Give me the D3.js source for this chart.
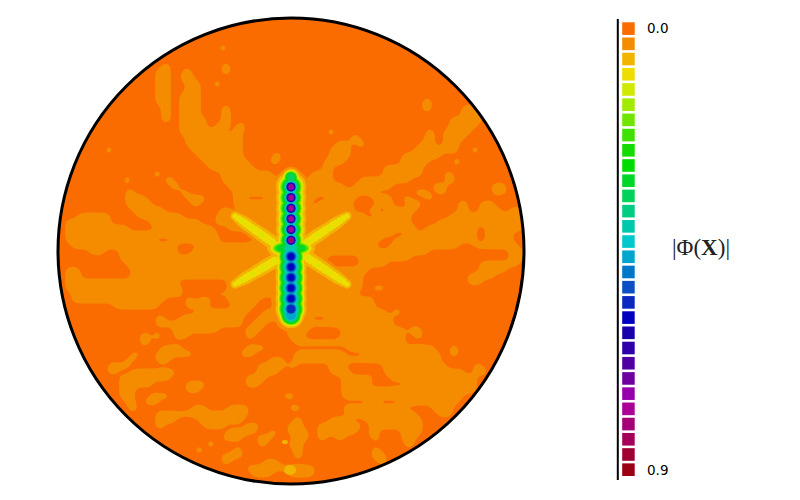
<!DOCTYPE html>
<html>
<head>
<meta charset="utf-8">
<script src="https://cdn.jsdelivr.net/npm/d3@7"></script>
<style>html,body{margin:0;padding:0;background:#fff}svg{display:block}</style>
</head>
<body>
<svg id="chart" width="800" height="500"></svg>
<script>
// Colour levels of |Phi(X)|, from 0.0 to 0.9
const levelColors = ["#fa6c00","#f58c00","#f2b400","#eedd00","#cfe900","#a2ea00","#70e600","#40e000","#14dc00","#00dc00",
  "#00d728","#00d25a","#00cd82","#00c8aa","#00c8cd","#00a5cd","#0078c8","#0a50c3","#0a28be","#0000be",
  "#1900aa","#2d00aa","#5000a0","#6e00a0","#9600aa","#aa0096","#a50078","#a5005a","#a00032","#9b0014"];
const colorbarLabels = ["0.0","0.9"];

// Low-amplitude field over a 78 x 78 grid: columns at level 1 in each row (rest is level 0)
const fieldRuns = ["","","","","",
"27","","",
"17-18 27-28","16-18 21 27-28","16-18 20-22","16-18 21-23 26","16-18 21-23","16-18 20-23",
"16-18 20-23 61","17-18 20-23 27-28 61 67-69","17-18 20-23 27-28 67-70","17-18 20-24 27-28 65-70",
"20-24 26-28 30 65-69","20-27 29-30 45 61-62 64-68","21-30 49 61-62 64-67","21-30 46-48 50 60-62 64-66",
"8 22-30 45-48 59-66 69","5-6 23-30 36 45-48 57-63","24-31 35-36 44-47 57-61 66","25-32 44-45 54-60",
"16 27-35 42-45 54-60 64-65","11 18 27-39 41-45 50-58 65","19 28-39 41-47 49-55 62-64 72-74",
"11-12 20-21 29-39 41-52 59-61 63-64 72-74","11-14 21-24 29-30 35-42 45-49 52-55 57-58 61-62",
"11-15 22-23 25-26 29-41 43-48 53-55 58-60 67 70-72","12-17 27-28 30-49 52 55-57 58-59 67 70-73 75-77",
"3-8 13-20 26-41 43-47 50 53-58 65-77","1-8 15-23 26-58 63-77","1-11 16-25 28-41 43-59 61-69 71-77",
"1-19 20-26 31-55 58-59 60-69 71-75","1-15 19-26 33-45 47-53 56-69 71-75","2-19 23-52 55-66 69-76",
"5-7 10-19 22-61 75-77","10-44 50-58 75-77","11-30 33-44 50-54 70-76","1-3 12-51 70-74","1-3 12-15 18-50 68-72",
"1-19 28-50 68-70","1-20 28-50 52-54","2-20 26-27 28-30 33-49","2-17 21-22 23-25 28-33 36-52",
"9-16 21-22 23-24 29-32 36-52","23-31 34-54 56","16-17 20-30 33-41 45-55 59-60","16-30 32-34 37-55",
"19-26 31-33 38-41 47-57 58-60","14 16 19-21 31-32 38-40 47-57 59-60","14 39-57","5-6 17-20 31-34 48-62 65-66",
"8-9 12-13 16-22 30-32 39-47 51-63 65-66","11-12 16-18 35-37 39-63","8-11 33-37 38-39 45-47 54-64 69-70",
"8-9 12-19 33-36 45-48 54-67 69-71","10-18 31-34 38-39 47-52 55-69","10-15 21-24 31-33 47-51 58-69",
"10-12 21-23 47-59 61-65 67-69","10-12 15-18 31-32 37-39 47-67","11-12 14-16 52 57-66","12 22-24 28-31 38-40 47-57 62-65",
"16-31 48-59 63-65","16-19 23-30 39-40 45-48 51-60","16-17 24-27 31-33 38-40 43-50 52-60",
"28-32 35-36 38-41 43-49 52 57-60","27-30 33-35 39-41 43-44 46-47 52-53 57-59","25 33-34 38-40 58",
"23 29-30 39-40 52-53","27-30 39-40 52-54","27-28 34-36 53-54","31-42","32-35 38-42",""];

// Vortex chain along the vertical axis (unit-disc y, peak colour level)
const upperNodeY = [0.315,0.275,0.229,0.183,0.138,0.092,0.046];
const upperNodePeak = [11,24,25,25,25,25,27];
const upperNodeSpread = [0.6,1,1,1,1,1,1];
const lowerNodeY = [-0.024,-0.069,-0.114,-0.159,-0.204,-0.249,-0.275];
const lowerNodePeak = [19,19,19,19,19,18,15];
const lowerNodeSpread = [1,1,1,1,1,1,0.85];
// Radius of each level contour around a node, index = level
const upperRingRadius = [0,18,15,12.6,11.6,10.8,10.2,9.6,9,8.5,8,7.3,6.6,6,5.5,5,4.7,4.5,4.3,4.1,3.9,3.6,3.3,3,2.6,2,1.7,1.4];
const lowerRingRadius = [0,20,15.5,13.5,12.5,12,11.5,11,10.5,10,9.5,8.6,7.8,7.2,6.6,5.8,5.1,4.5,3.9,3];

// Four side arms: tip and joint in unit-disc coordinates, beads along each arm
const armTipX = [-0.24,0.24,-0.24,0.24];
const armTipY = [0.15,0.15,-0.142,-0.142];
const armJointX = [-0.082,0.073,-0.07,0.073];
const armJointY = [0.039,0.039,-0.043,-0.03];
const armBeadT = [0,0.09,0.18,0.27,0.36,0.45,0.55,0.64,0.73,0.82,0.91,1];
const armBeadSpread = [0.7,0.82,0.92,1,1,1,1.05,1.05,1.1,1.1,1.1,1.1];
const armRingLevels = [1,2,3,4];
const armRingRadius = [9,6.5,3.8,1.7];

// Hub where chain and arms meet
const hubY = 0.012;
const hubLevels = [1,2,3,5,7,10,13];
const hubRx = [27,24,20.5,18.5,17,14.5,7];
const hubRy = [15,11,8.5,7,6,5,3.2];

// Isolated spots at level 2
const spotX = [-0.004,-0.026];
const spotY = [-0.94,-0.82];
const spotRx = [6,3];
const spotRy = [5,2];

const svg = d3.select("#chart");
const x = d3.scaleLinear().domain([-1,1]).range([58,524]);
const y = d3.scaleLinear().domain([1,-1]).range([18,484]);
const r = d3.scaleLinear().domain([0,233]).range([0,233]);
const color = i => levelColors[i];

svg.append("defs").append("clipPath").attr("id","disc").append("circle")
  .attr("cx",x(0)).attr("cy",y(0)).attr("r",x(1)-x(0));

const disc = svg.append("g").attr("clip-path","url(#disc)");
disc.append("circle").attr("cx",x(0)).attr("cy",y(0)).attr("r",x(1)-x(0)).attr("fill",color(0));

// Background field -> upsampled grid -> blur -> contour
const N = fieldRuns.length, UP = 4, M = N*UP;
const values = new Float64Array(M*M);
fieldRuns.forEach((row,j)=>{
  row.split(" ").filter(Boolean).forEach(run=>{
    const [a,b] = run.split("-").map(Number);
    const single = b===undefined;
    const from = single ? a*UP : a*UP+1;
    const to = single ? a*UP+UP-1 : b*UP+2;
    for(let c=from;c<=to;c++) for(let dj=0;dj<UP;dj++)
      values[(j*UP+dj)*M + c] = single ? 1.7 : 1;
  });
});
d3.blur2({data:values,width:M,height:M},2);
const contour = d3.contours().size([M,M]).thresholds([0.46])(Array.from(values))[0];
const gx = d3.scaleLinear().domain([0,M]).range([58,58+6*N]);
const gy = d3.scaleLinear().domain([0,M]).range([15,15+6*N]);
const gridPath = d3.geoPath(d3.geoTransform({point(a,b){this.stream.point(gx(a),gy(b));}}));
disc.append("path").attr("d",gridPath(contour)).attr("fill",color(1));

// Central structure, drawn level by level from low to high
const nodes = [
  ...upperNodeY.map((v,i)=>({y:v,peak:upperNodePeak[i],spread:upperNodeSpread[i],radii:upperRingRadius})),
  ...lowerNodeY.map((v,i)=>({y:v,peak:lowerNodePeak[i],spread:lowerNodeSpread[i],radii:lowerRingRadius}))
];
const armBeads = armTipX.flatMap((tx,i)=>armBeadT.map((t,k)=>({
  x: tx+(armJointX[i]-tx)*t, y: armTipY[i]+(armJointY[i]-armTipY[i])*t, spread: armBeadSpread[k], k
})));
const core = disc.append("g");
for(let level=1; level<=27; level++){
  const g = core.append("g").attr("fill",color(level)).attr("stroke","none");
  if(level===2){
    g.selectAll(".spot").data(spotX).join("ellipse").attr("class","spot")
      .attr("cx",d=>x(d)).attr("cy",(d,i)=>y(spotY[i]))
      .attr("rx",(d,i)=>r(spotRx[i])).attr("ry",(d,i)=>r(spotRy[i]));
  }
  const ai = armRingLevels.indexOf(level);
  if(ai>=0){
    const beads = level===4 ? armBeads.filter(b=>b.k%3===2) : armBeads;
    g.selectAll(".arm").data(beads).join("circle").attr("class","arm")
      .attr("cx",d=>x(d.x)).attr("cy",d=>y(d.y)).attr("r",d=>r(armRingRadius[ai]*d.spread));
  }
  const hi = hubLevels.indexOf(level);
  if(hi>=0){
    g.append("ellipse").attr("cx",x(0)).attr("cy",y(hubY)).attr("rx",r(hubRx[hi])).attr("ry",r(hubRy[hi]));
  }
  g.selectAll(".node").data(nodes.filter(n=>n.peak>=level)).join("circle").attr("class","node")
    .attr("cx",x(0)).attr("cy",d=>y(d.y)).attr("r",d=>r(d.radii[level]*d.spread));
}

// Disc outline
svg.append("circle").attr("cx",x(0)).attr("cy",y(0)).attr("r",x(1)-x(0))
  .attr("fill","none").attr("stroke","#000").attr("stroke-width",3);

// Colour bar
const band = d3.scaleBand().domain(d3.range(levelColors.length)).range([22.3,476]).paddingInner(0.17);
const bar = svg.append("g");
bar.append("line").attr("x1",617.8).attr("x2",617.8).attr("y1",19).attr("y2",480).attr("stroke","#000").attr("stroke-width",2);
bar.selectAll("rect").data(levelColors).join("rect")
  .attr("x",622.2).attr("width",12.5)
  .attr("y",(d,i)=>band(i)).attr("height",band.bandwidth()).attr("fill",d=>d);
bar.selectAll("text.tick").data(colorbarLabels).join("text").attr("class","tick")
  .attr("x",647).attr("y",(d,i)=>i===0?band(0)+10.8:band(levelColors.length-1)+11.8)
  .attr("font-family","DejaVu Sans").attr("font-size",13.5).attr("fill","#000").text(d=>d);

const title = svg.append("text").attr("x",701).attr("y",254.5).attr("text-anchor","middle")
  .attr("font-family","Liberation Serif").attr("font-size",23).attr("fill","#222");
title.append("tspan").text("|Φ(");
title.append("tspan").attr("font-weight","bold").text("X");
title.append("tspan").text(")|");
</script>
</body>
</html>
